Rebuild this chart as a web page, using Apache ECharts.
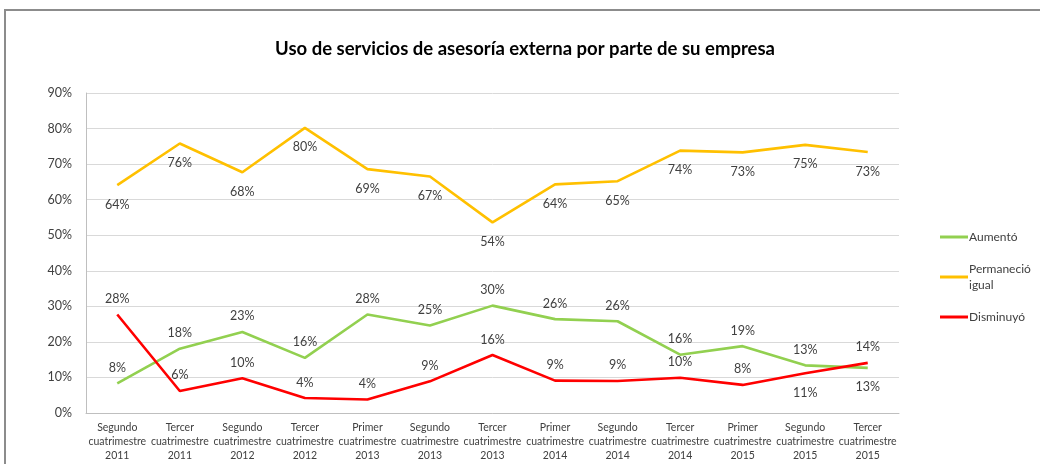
<!DOCTYPE html>
<html>
<head>
<meta charset="utf-8">
<script src="https://cdn.jsdelivr.net/npm/echarts@6/dist/echarts.min.js"></script>
<style>
html, body { margin: 0; padding: 0; background: #fff; }
#chart { width: 1040px; height: 464px; }
</style>
</head>
<body>
<div id="chart"></div>
<script>
// periodos (eje x)
var periodos = [
    "Segundo\ncuatrimestre\n2011",
    "Tercer\ncuatrimestre\n2011",
    "Segundo\ncuatrimestre\n2012",
    "Tercer\ncuatrimestre\n2012",
    "Primer\ncuatrimestre\n2013",
    "Segundo\ncuatrimestre\n2013",
    "Tercer\ncuatrimestre\n2013",
    "Primer\ncuatrimestre\n2014",
    "Segundo\ncuatrimestre\n2014",
    "Tercer\ncuatrimestre\n2014",
    "Primer\ncuatrimestre\n2015",
    "Segundo\ncuatrimestre\n2015",
    "Tercer\ncuatrimestre\n2015"
];
var aumento = [8.3, 18.1, 22.8, 15.5, 27.7, 24.6, 30.2, 26.4, 25.8, 16.4, 18.8, 13.4, 12.7];
var permanecio = [64.1, 75.8, 67.7, 80.2, 68.6, 66.5, 53.6, 64.3, 65.2, 73.8, 73.3, 75.4, 73.4];
var disminuyo = [27.7, 6.2, 9.8, 4.2, 3.8, 8.9, 16.3, 9.1, 9.0, 9.9, 7.9, 11.2, 14.1];
var yTicks = [0, 10, 20, 30, 40, 50, 60, 70, 80, 90];

var FONT = "Lato";
var chart = echarts.init(document.getElementById("chart"));

function pct(v) { return Math.round(v) + "%"; }

// etiquetas arriba salvo excepciones
function puntos(values, pos, excepciones) {
    return values.map(function (v, i) {
        var p = excepciones && excepciones[i] ? excepciones[i] : pos;
        return { value: v, label: { show: true, position: p, distance: p === "bottom" ? 13 : 9 } };
    });
}

function serie(name, color, values, pos, excepciones) {
    return {
        name: name,
        type: "line",
        data: puntos(values, pos, excepciones),
        symbol: "circle",
        symbolSize: 0.1,
        showSymbol: true,
        lineStyle: { color: color, width: 2.6 },
        itemStyle: { color: color },
        label: {
            show: true,
            formatter: function (p) { return pct(p.value); },
            color: "#404040",
            fontFamily: FONT,
            fontSize: 12.5
        },
        emphasis: { disabled: true }
    };
}

chart.setOption({
    animation: false,
    title: {
        text: "Uso de servicios de asesoría externa por parte de su empresa",
        left: 520,
        textAlign: "center",
        top: 35,
        textStyle: { fontFamily: FONT, fontWeight: "bold", fontSize: 18.5, color: "#000" }
    },
    legend: {
        orient: "vertical",
        left: 935,
        top: 224,
        itemGap: 16,
        itemWidth: 28,
        itemHeight: 3,
        icon: "rect",
        formatter: function (n) { return n === "Permaneció igual" ? "Permaneció\nigual" : n; },
        textStyle: { fontFamily: FONT, fontSize: 12, color: "#404040", lineHeight: 16, padding: [0, 0, 0, -4] },
        data: ["Aumentó", "Permaneció igual", "Disminuyó"]
    },
    graphic: [{
        type: "rect",
        shape: { x: 5, y: 10, width: 1100, height: 500 },
        style: { fill: "none", stroke: "#8c8c8c", lineWidth: 2 },
        silent: true
    }],
    grid: { left: 86, right: 141, top: 93, bottom: 51 },
    xAxis: {
        type: "category",
        data: periodos,
        boundaryGap: true,
        axisTick: { show: false },
        axisLine: { lineStyle: { color: "#bfbfbf" } },
        axisLabel: {
            interval: 0,
            margin: 8,
            fontFamily: FONT,
            fontSize: 10.5,
            lineHeight: 14,
            color: "#404040"
        }
    },
    yAxis: {
        type: "value",
        min: 0,
        max: 90,
        interval: 10,
        axisLine: { show: true, lineStyle: { color: "#bfbfbf" } },
        axisTick: { show: false },
        splitLine: { lineStyle: { color: "#d9d9d9" } },
        axisLabel: {
            margin: 14,
            fontFamily: FONT,
            fontSize: 12.5,
            color: "#404040",
            formatter: function (v) { return yTicks.indexOf(v) >= 0 ? v + "%" : ""; }
        }
    },
    series: [
        serie("Aumentó", "#92D050", aumento, "top", { 12: "bottom" }),
        serie("Permaneció igual", "#FFC000", permanecio, "bottom"),
        serie("Disminuyó", "#FF0000", disminuyo, "top", { 11: "bottom" })
    ]
});
</script>
</body>
</html>
